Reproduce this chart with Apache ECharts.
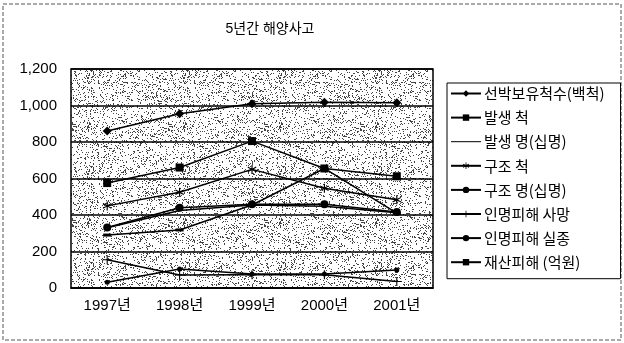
<!DOCTYPE html>
<html>
<head>
<meta charset="utf-8">
<script src="https://cdn.jsdelivr.net/npm/echarts@6/dist/echarts.min.js"></script>
<style>
  html, body { margin: 0; padding: 0; background: #fff; }
  #chart { width: 624px; height: 343px; }
</style>
</head>
<body>
<div id="chart"></div>
<script>
  var years = ['1997년', '1998년', '1999년', '2000년', '2001년']
  var seriesNames = ['선박보유척수(백척)', '발생 척', '발생 명(십명)', '구조 척', '구조 명(십명)', '인명피해 사망', '인명피해 실종', '재산피해 (억원)']
  var shipsOwned = [860, 955, 1010, 1018, 1015]
  var accidentShips = [575, 660, 805, 655, 612]
  var accidentPeople = [330, 425, 455, 448, 412]
  var rescueShips = [450, 525, 650, 547, 484]
  var rescuePeople = [331, 440, 459, 459, 416]
  var deaths = [155, 71, 72, 72, 36]
  var missing = [31, 104, 77, 77, 98]
  var propertyLoss = [290, 318, 455, 655, 410]
  var yTicks = [0, 200, 400, 600, 800, 1000, 1200]

  // stipple texture for the plot area (decoration only)
  function makeStipple() {
    var c = document.createElement('canvas')
    c.width = 96
    c.height = 96
    var ctx = c.getContext('2d')
    ctx.fillStyle = '#ffffff'
    ctx.fillRect(0, 0, 96, 96)
    var s = 12345
    function rnd() {
      s = (s * 1103515245 + 12345) % 2147483648
      return s / 2147483648
    }
    ctx.fillStyle = '#444'
    for (var i = 0; i < 1500; i++) {
      var x = Math.floor(rnd() * 96)
      var y = Math.floor(rnd() * 96)
      ctx.fillRect(x, y, 1, 1)
    }
    return c
  }

  var star = 'path://M4.4,0H5.6V3.9L9,1.9L9.6,3L6.2,5L9.6,7L9,8.1L5.6,6.1V10H4.4V6.1L1,8.1L0.4,7L3.8,5L0.4,3L1,1.9L4.4,3.9Z'
  var plus = 'path://M4.4,0H5.6V4.4H10V5.6H5.6V10H4.4V5.6H0V4.4H4.4Z'

  function mk(name, data, symbol, size) {
    return {
      name: name,
      type: 'line',
      data: data,
      symbol: symbol,
      symbolSize: size,
      showSymbol: symbol !== 'none',
      itemStyle: { color: '#000' },
      lineStyle: { color: '#000', width: 1.5 },
      emphasis: { disabled: true },
      animation: false
    }
  }

  var legendData = seriesNames.map(function (n, i) {
    if (i === 2) {
      return { name: n, itemStyle: { color: 'rgba(0,0,0,0)', borderWidth: 0 }, lineStyle: { color: '#000', width: 1 } }
    }
    return { name: n }
  })

  var chart = echarts.init(document.getElementById('chart'))
  chart.setOption({
    backgroundColor: '#fff',
    animation: false,
    title: {
      text: '5년간 해양사고',
      left: 265,
      top: 17,
      textAlign: 'center',
      textStyle: { fontFamily: 'Liberation Sans, Noto Sans CJK KR', fontSize: 14, fontWeight: 'normal', color: '#000' }
    },
    grid: {
      left: 71,
      right: 191,
      top: 69,
      bottom: 55,
      show: true,
      borderColor: '#000',
      borderWidth: 1.5,
      backgroundColor: { image: makeStipple(), repeat: 'repeat' }
    },
    legend: {
      orient: 'vertical',
      left: 447,
      top: 83,
      padding: [3, 16, 9, 3],
      itemWidth: 30,
      itemHeight: 8,
      itemGap: 9.1,
      borderColor: '#000',
      borderWidth: 1,
      backgroundColor: '#fff',
      data: legendData,
      textStyle: { fontFamily: 'Noto Sans CJK KR', fontSize: 15, lineHeight: 15, color: '#000', padding: [0, 0, 0, -2] }
    },
    xAxis: {
      type: 'category',
      data: years,
      axisLine: { lineStyle: { color: '#000', width: 1.5 } },
      axisTick: { inside: true, length: 4, lineStyle: { color: '#000' } },
      axisLabel: { color: '#000', fontSize: 15, margin: 10, fontFamily: 'Liberation Sans, Noto Sans CJK KR' }
    },
    yAxis: {
      type: 'value',
      min: yTicks[0],
      max: yTicks[yTicks.length - 1],
      interval: 200,
      axisLine: { show: false },
      axisTick: { show: false },
      splitLine: { lineStyle: { color: '#000', width: 1.5 } },
      axisLabel: {
        color: '#000',
        fontSize: 15,
        margin: 14,
        fontFamily: 'Liberation Sans',
        formatter: function (v) { return v.toLocaleString('en-US') }
      }
    },
    graphic: [{
      type: 'rect',
      silent: true,
      shape: { x: 3, y: 4, width: 618, height: 336 },
      style: { fill: 'none', stroke: '#555', lineWidth: 1, lineDash: [4, 2] },
      z: -1
    }],
    series: [
      mk(seriesNames[0], shipsOwned, 'diamond', 9),
      mk(seriesNames[1], accidentShips, 'rect', 8),
      mk(seriesNames[2], accidentPeople, 'none', 0),
      mk(seriesNames[3], rescueShips, star, 9),
      mk(seriesNames[4], rescuePeople, 'circle', 8),
      mk(seriesNames[5], deaths, plus, 9),
      mk(seriesNames[6], missing, 'circle', 5),
      mk(seriesNames[7], propertyLoss, 'rect', [8, 3])
    ]
  })
</script>
</body>
</html>
